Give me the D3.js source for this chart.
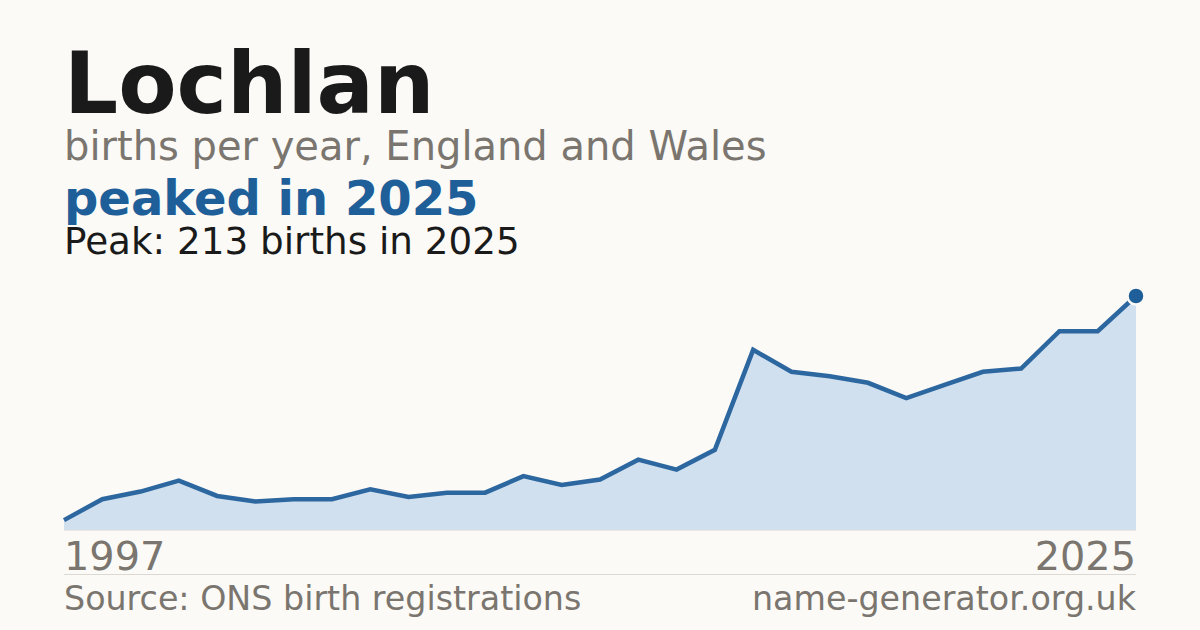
<!DOCTYPE html>
<html>
<head>
<meta charset="utf-8">
<script src="https://cdn.jsdelivr.net/npm/d3@7"></script>
<style>
  html, body { margin: 0; padding: 0; background: #fbfaf6; }
  svg { display: block; font-family: "DejaVu Sans", sans-serif; }
</style>
</head>
<body>
<div id="chart"></div>
<script>
// births per year
var years = [1997, 1998, 1999, 2000, 2001, 2002, 2003, 2004, 2005, 2006,
             2007, 2008, 2009, 2010, 2011, 2012, 2013, 2014, 2015, 2016,
             2017, 2018, 2019, 2020, 2021, 2022, 2023, 2024, 2025];
var births = [9, 28, 35, 45, 31, 26, 28, 28, 37, 30,
              34, 34, 49, 41, 46, 64, 55, 73, 164, 144,
              140, 134, 120, 132, 144, 147, 181, 181, 213];
var tickLabels = ["1997", "2025"];

var width = 1200, height = 630;
var plotLeft = 64, plotRight = 1136, plotTop = 296, plotBottom = 530;

var svg = d3.select("#chart")
    .append("svg")
    .attr("width", width)
    .attr("height", height);

svg.append("rect")
    .attr("width", width)
    .attr("height", height)
    .attr("fill", "#fbfaf6");

var data = years.map(function(y, i) { return { year: y, value: births[i] }; });

var x = d3.scaleLinear()
    .domain(d3.extent(years))
    .range([plotLeft, plotRight]);

var y = d3.scaleLinear()
    .domain([0, d3.max(births)])
    .range([plotBottom, plotTop]);

// titles
svg.append("text")
    .attr("x", plotLeft).attr("y", 113)
    .attr("font-size", 85).attr("font-weight", "bold")
    .attr("fill", "#1a1a1a")
    .text("Lochlan");

svg.append("text")
    .attr("x", plotLeft).attr("y", 160)
    .attr("font-size", 40)
    .attr("fill", "#7a756e")
    .text("births per year, England and Wales");

svg.append("text")
    .attr("x", plotLeft).attr("y", 215)
    .attr("font-size", 48).attr("font-weight", "bold")
    .attr("fill", "#1f5f99")
    .text("peaked in 2025");

svg.append("text")
    .attr("x", plotLeft).attr("y", 254)
    .attr("font-size", 37.3)
    .attr("fill", "#1a1a1a")
    .text("Peak: 213 births in 2025");

// area + line
var area = d3.area()
    .x(function(d) { return x(d.year); })
    .y0(plotBottom)
    .y1(function(d) { return y(d.value); });

var line = d3.line()
    .x(function(d) { return x(d.year); })
    .y(function(d) { return y(d.value); });

svg.append("path")
    .datum(data)
    .attr("d", area)
    .attr("fill", "#d0e0ef");

svg.append("line")
    .attr("x1", plotLeft).attr("x2", plotRight)
    .attr("y1", plotBottom + 0.5).attr("y2", plotBottom + 0.5)
    .attr("stroke", "#ece6dc")
    .attr("stroke-width", 1);

svg.append("path")
    .datum(data)
    .attr("d", line)
    .attr("fill", "none")
    .attr("stroke", "#2d67a0")
    .attr("stroke-width", 4.5)
    .attr("stroke-linejoin", "miter");

var last = data[data.length - 1];
svg.append("circle")
    .attr("cx", x(last.year))
    .attr("cy", y(last.value))
    .attr("r", 8.5)
    .attr("fill", "#1f5f99")
    .attr("stroke", "#fbfaf6")
    .attr("stroke-width", 2.5);

// year labels
svg.append("text")
    .attr("x", plotLeft).attr("y", 570)
    .attr("font-size", 39.8)
    .attr("fill", "#7a756e")
    .text(tickLabels[0]);

svg.append("text")
    .attr("x", plotRight).attr("y", 570)
    .attr("font-size", 39.8)
    .attr("text-anchor", "end")
    .attr("fill", "#7a756e")
    .text(tickLabels[1]);

svg.append("line")
    .attr("x1", plotLeft).attr("x2", plotRight)
    .attr("y1", 574.5).attr("y2", 574.5)
    .attr("stroke", "#dcd9d3")
    .attr("stroke-width", 1);

// footer
svg.append("text")
    .attr("x", plotLeft).attr("y", 610)
    .attr("font-size", 33.3)
    .attr("fill", "#7a756e")
    .text("Source: ONS birth registrations");

svg.append("text")
    .attr("x", plotRight).attr("y", 610)
    .attr("font-size", 33.3)
    .attr("text-anchor", "end")
    .attr("fill", "#7a756e")
    .text("name-generator.org.uk");
</script>
</body>
</html>
